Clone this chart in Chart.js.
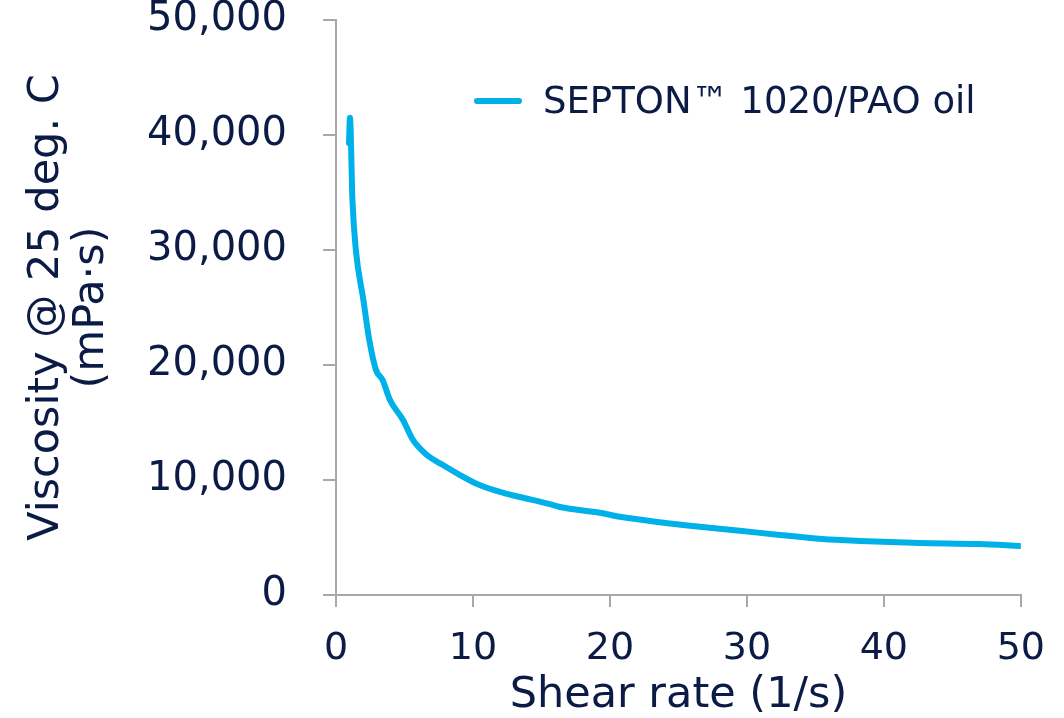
<!DOCTYPE html>
<html lang="en">
<head>
    <meta charset="UTF-8">
    <title>Viscosity vs shear rate</title>
    <script src="https://cdn.jsdelivr.net/npm/chart.js"></script>
    <style>
        html, body { margin: 0; padding: 0; background: #ffffff; }
        #wrap { width: 1064px; height: 718px; }
    </style>
</head>
<body>
    <div id="wrap"><canvas id="viscosityChart" width="1064" height="718"></canvas></div>

    <script>
        // values
        const seriesName = 'SEPTON\u2122 1020/PAO oil';
        const shearRate = [0.95, 1.02, 1.2, 1.45, 2.0, 2.43, 2.92, 3.4, 3.94, 4.89, 5.62, 6.64, 7.81, 9.05,
            10.3, 11.97, 13.43, 15.62, 16.35, 19.27, 20.73, 23.65, 26.57, 29.49, 32.4, 35.5, 38.25, 42.63, 47.0, 49.93];
        const viscosity = [39300, 41500, 34350, 30000, 25650, 22170, 19570, 18700, 16960, 15220, 13480, 12170, 11300, 10430,
            9650, 8960, 8520, 7900, 7650, 7150, 6800, 6330, 5940, 5590, 5220, 4870, 4700, 4520, 4430, 4260];
        const yTitle = ['Viscosity @ 25 deg. C', '(mPa\u00b7s)'];
        const xTitle = 'Shear rate (1/s)';

        const lineColor = '#00b1e9';
        const textColor = '#0b1b45';
        const axisColor = '#a8a8ac';
        const fontFamily = '"DejaVu Sans", sans-serif';

        const points = shearRate.map((x, i) => ({ x: x, y: viscosity[i] }));

        // legend sits inside the plot, upper right
        const insideLegend = {
            id: 'insideLegend',
            afterDraw(chart) {
                const { ctx, chartArea } = chart;
                const x = chartArea.left + 141;
                const y = chartArea.top + 81;
                ctx.save();
                ctx.strokeStyle = lineColor;
                ctx.lineWidth = 6;
                ctx.lineCap = 'round';
                ctx.beginPath();
                ctx.moveTo(x, y);
                ctx.lineTo(x + 42, y);
                ctx.stroke();
                ctx.fillStyle = textColor;
                ctx.font = '37px ' + fontFamily;
                ctx.textBaseline = 'middle';
                ctx.fillText(chart.data.datasets[0].label, x + 66, y + 2);
                ctx.restore();
            }
        };

        new Chart(document.getElementById('viscosityChart'), {
            type: 'line',
            data: {
                datasets: [{
                    label: seriesName,
                    data: points,
                    borderColor: lineColor,
                    backgroundColor: lineColor,
                    borderWidth: 6,
                    borderCapStyle: 'round',
                    borderJoinStyle: 'round',
                    pointRadius: 0,
                    cubicInterpolationMode: 'monotone',
                    fill: false
                }]
            },
            options: {
                responsive: false,
                animation: false,
                layout: { padding: { top: 20, right: 43, bottom: 0, left: 0 } },
                plugins: {
                    legend: { display: false },
                    tooltip: { enabled: false }
                },
                scales: {
                    x: {
                        type: 'linear',
                        min: 0,
                        max: 50,
                        ticks: {
                            stepSize: 10,
                            color: textColor,
                            padding: 19,
                            font: { family: fontFamily, size: 38 }
                        },
                        grid: { drawOnChartArea: false, drawTicks: true, tickLength: 12, color: axisColor, lineWidth: 2 },
                        border: { display: true, color: axisColor, width: 2 },
                        title: {
                            display: true,
                            text: xTitle,
                            color: textColor,
                            padding: { top: 0, bottom: 1 },
                            font: { family: fontFamily, size: 43, lineHeight: 1 }
                        },
                        afterFit(scale) { scale.height = 123; }
                    },
                    y: {
                        min: 0,
                        max: 50000,
                        ticks: {
                            stepSize: 10000,
                            color: textColor,
                            padding: 36,
                            font: { family: fontFamily, size: 40 }
                        },
                        grid: { drawOnChartArea: false, drawTicks: true, tickLength: 13, color: axisColor, lineWidth: 2 },
                        border: { display: true, color: axisColor, width: 2 },
                        title: {
                            display: true,
                            text: yTitle,
                            color: textColor,
                            padding: { top: 24, bottom: 0 },
                            font: { family: fontFamily, size: 43, lineHeight: 1.05 }
                        },
                        afterFit(scale) {
                            // fixed axis width, and no extra room above/below the plot
                            scale.width = 336;
                            scale.paddingTop = 0;
                            scale.paddingBottom = 0;
                        }
                    }
                }
            },
            plugins: [insideLegend]
        });
    </script>
</body>
</html>
